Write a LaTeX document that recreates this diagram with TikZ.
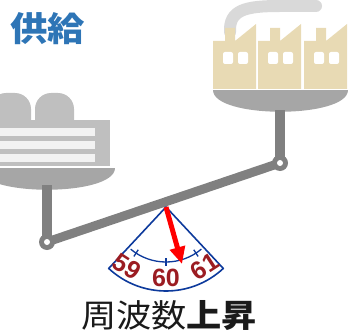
\documentclass[tikz,border=0pt]{standalone}
\usepackage{fontspec}
\usepackage{xcolor}
\usepackage{tikz}
\usetikzlibrary{arrows.meta}

\newfontfamily\jpfont{Noto Sans CJK JP}
\newfontfamily\numfont{Liberation Sans}

\definecolor{planta}{HTML}{BFBFBF}
\definecolor{franja}{HTML}{F2F2F2}
\definecolor{plato}{HTML}{A6A6A6}
\definecolor{brazo}{HTML}{808080}
\definecolor{humo}{HTML}{D9D9D9}
\definecolor{fabrica}{HTML}{E8DAB4}
\definecolor{azul}{HTML}{2E75B6}
\definecolor{dial}{HTML}{0D3A9C}
\definecolor{numero}{HTML}{9B1C22}
\definecolor{texto}{HTML}{1A1A1A}

\begin{document}
\begin{tikzpicture}[x=1pt, y=1pt,
  viga/.style={line width=9pt, draw=brazo},
  escala/.style={draw=dial, line width=1.6pt},
  cifra/.style={text=numero, font=\numfont\bfseries\fontsize{25}{25}\selectfont, inner sep=0pt},
  aguja/.style={draw=red, line width=5pt, -{Triangle[width=15pt, length=17pt]}},
  rotulo/.style={xscale=1.1, transform shape, inner sep=0pt}]
\useasboundingbox (0,0) rectangle (350,-334);

% Planta (izquierda)
\foreach \xa/\xb in {-10/31, 35/74}
  \fill[planta] (\xa,-121) -- (\xa,-109) arc[start angle=180, end angle=90, radius=16pt]
    -- (\xb-16,-93) arc[start angle=90, end angle=0, radius=16pt] -- (\xb,-121) -- cycle;
\fill[planta] (-1,-120) rectangle (110,-166);
\foreach \y in {128,141,154}
  \fill[franja] (-1,-\y) rectangle (95,-\y-8);
\fill[plato] (-21,-168) .. controls (-21,-197) and (115,-197) .. (115,-168) -- cycle;

% Fabrica (derecha)
\draw[humo, line width=12pt, line cap=round] (230,-32) .. controls (229,-10) and (245,-6) .. (280,-6) -- (316,-6);
\foreach \u in {213,258,304} {
  \fill[fabrica] (\u,-89) -- (\u,-41) -- (\u+12,-41) -- (\u+12,-28) -- (\u+22,-28)
    -- (\u+22,-41) -- (\u+43,-24) -- (\u+43,-89) -- cycle;
  \fill[white, rounded corners=2pt] (\u+10,-52) rectangle ++(10,-12);
  \fill[white, rounded corners=2pt] (\u+25,-52) rectangle ++(10,-12);
}
\fill[plato] (213,-90) .. controls (213,-119) and (348,-119) .. (348,-90) -- cycle;

% Balanza
\coordinate (pl) at (47,-242);
\coordinate (pr) at (280,-163);
\fill[brazo] (42,-185) rectangle (52,-242);
\fill[brazo] (275,-110) rectangle (285,-163);
\draw[viga] (pl) -- (pr);
\foreach \p in {pl,pr} {
  \fill[brazo] (\p) circle[radius=8pt];
  \fill[white] (\p) circle[radius=3pt];
}

% Dial
\coordinate (ap) at (166,-207);
\coordinate (tip) at (182,-264);
\draw[escala, fill=white, line join=round] (ap) -- ++(227:84pt) arc[start angle=227, end angle=313, radius=84pt] -- cycle;
\draw[escala, line width=1.3pt] ([shift={(230:55pt)}]ap) arc[start angle=230, end angle=310, radius=55pt];
\foreach \a/\n in {237/59, 270/60, 303/61} {
  \draw[escala, line width=1.3pt] ([shift={(\a:51pt)}]ap) -- ([shift={(\a:59pt)}]ap);
  \node[cifra, rotate=\a-270] (n\n) at ([shift={(\a:71pt)}]ap) {\n};
}
\draw[aguja] (ap) -- (tip);

% Textos
\node[rotulo, text=azul, font=\jpfont\bfseries\fontsize{34}{40}\selectfont] (sup) at (48,-29) {供給};
\node[rotulo, text=texto, font=\jpfont\fontsize{32}{38}\selectfont] (frec) at (169,-316) {周波数\textbf{上昇}};
\end{tikzpicture}
\end{document}
